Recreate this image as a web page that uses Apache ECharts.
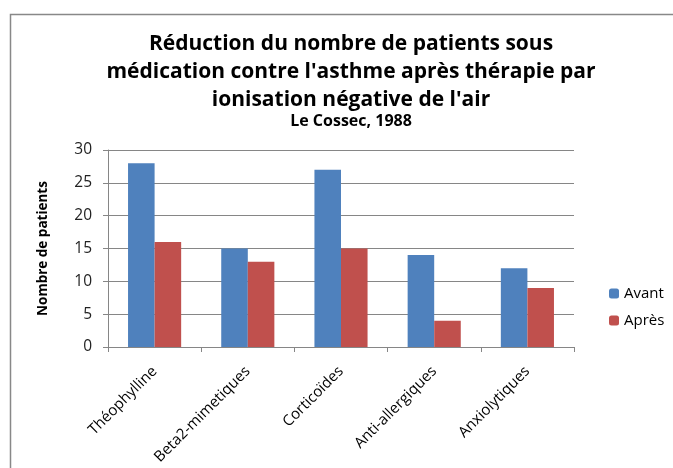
<!DOCTYPE html>
<html>
<head>
    <meta charset="utf-8">
    <title>ECharts</title>
    <script src="https://cdn.jsdelivr.net/npm/echarts@6/dist/echarts.min.js"></script>
</head>
<body style="margin:0;">
    <div id="main" style="width:673px;height:468px;"></div>
    <script type="text/javascript">
        var categories = ["Théophylline", "Beta2-mimetiques", "Corticoïdes", "Anti-allergiques", "Anxiolytiques"];
        var avant = [28, 15, 27, 14, 12];
        var apres = [16, 13, 15, 4, 9];
        var yTicks = { min: 0, max: 30, interval: 5 };

        var font = "Open Sans";
        var myChart = echarts.init(document.getElementById("main"));
        var option = {
            animation: false,
            textStyle: { fontFamily: font },
            graphic: [{
                type: "rect",
                shape: { x: 10.5, y: 14.5, width: 700, height: 500 },
                style: { fill: "#fff", stroke: "#888", lineWidth: 1.5 },
                z: -10
            }],
            title: {
                text: "Réduction du nombre de patients sous\nmédication contre l'asthme après thérapie par\nionisation négative de l'air",
                subtext: "Le Cossec, 1988",
                left: 346,
                textAlign: "center",
                top: 25,
                itemGap: -1,
                textStyle: { fontSize: 21, fontWeight: "bold", color: "#000", lineHeight: 28, fontFamily: font },
                subtextStyle: { fontSize: 16, fontWeight: "bold", color: "#000", fontFamily: font }
            },
            legend: {
                orient: "vertical",
                left: 604,
                top: 281,
                itemWidth: 10,
                itemHeight: 10,
                itemGap: 12,
                textStyle: { fontSize: 15, color: "#000" },
                data: ["Avant", "Après"]
            },
            grid: { left: 108, top: 150, width: 466, height: 197 },
            xAxis: {
                type: "category",
                data: categories,
                axisLine: { lineStyle: { color: "#868686" } },
                axisTick: { show: true, length: 5, alignWithLabel: false, lineStyle: { color: "#868686" } },
                axisLabel: { rotate: 45, fontSize: 15, color: "#000", margin: 22, interval: 0 }
            },
            yAxis: {
                type: "value",
                min: yTicks.min,
                max: yTicks.max,
                interval: yTicks.interval,
                name: "Nombre de patients",
                nameLocation: "middle",
                nameGap: 58,
                nameTextStyle: { fontSize: 13.5, fontWeight: "bold", color: "#000" },
                axisLine: { show: true, lineStyle: { color: "#868686" } },
                axisTick: { show: true, length: 5, lineStyle: { color: "#868686" } },
                axisLabel: { fontSize: 15.5, color: "#222", margin: 16 },
                splitLine: { lineStyle: { color: "#868686" } }
            },
            series: [{
                name: "Avant",
                type: "bar",
                data: avant,
                barGap: 0,
                barCategoryGap: "43%",
                itemStyle: { color: "#4F81BD" }
            }, {
                name: "Après",
                type: "bar",
                data: apres,
                itemStyle: { color: "#C0504D" }
            }]
        };
        myChart.setOption(option);
    </script>
</body>
</html>
